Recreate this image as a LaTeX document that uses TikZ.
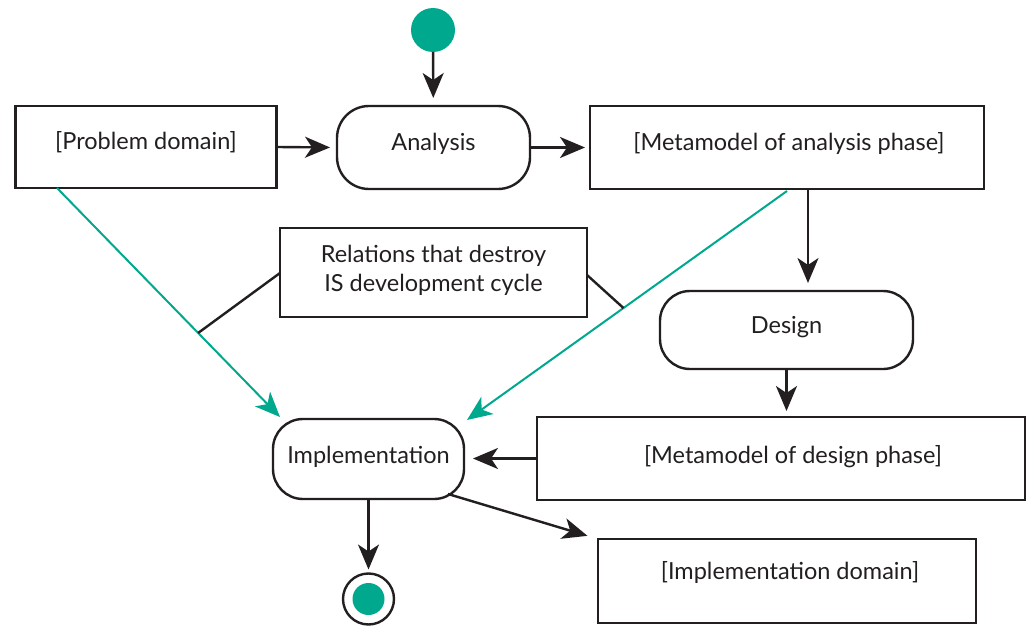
\documentclass[tikz,border=0pt]{standalone}
\usepackage{fontspec}
\setmainfont{Lato}
\usetikzlibrary{arrows.meta,calc}
\definecolor{ink}{HTML}{231F20}
\definecolor{teal}{RGB}{0,168,142}
\begin{document}
\begin{tikzpicture}[x=1pt,y=-1pt,
  every node/.style={inner sep=0pt,outer sep=0pt,font=\fontsize{23.5}{29}\selectfont,text=ink},
  box/.style={draw=ink,line width=2.4pt,rectangle},
  act/.style={draw=ink,line width=2.4pt,rectangle,rounded corners=32pt},
  flow/.style={draw=ink,line width=2.4pt,-{Stealth[length=25pt,width=21pt,inset=7pt]}},
  tflow/.style={draw=teal,line width=2pt,-{Stealth[length=25pt,width=21pt,inset=7pt]}},
  rel/.style={draw=ink,line width=2.4pt}]
\useasboundingbox (0,0) rectangle (1029,626);
\fill[white] (0,0) rectangle (1029,626);

\node[circle,fill=teal,minimum size=44pt] (start) at (433,30) {};
\node[act,minimum width=193pt,minimum height=83pt,label={[yshift=4pt]center:Analysis}] (analysis) at (433.5,147.5) {};
\node[box,minimum width=261pt,minimum height=82pt,label={[yshift=5pt]center:[Problem domain]}] (problem) at (146,147) {};
\node[box,minimum width=394pt,minimum height=83pt,label={[xshift=2pt,yshift=4pt]center:[Metamodel of analysis phase]}] (meta1) at (787,147.5) {};
\node[box,minimum width=307pt,minimum height=89pt,label={[yshift=2pt,align=center]center:Relations that destroy\\IS development cycle}] (rel) at (433.5,272.5) {};
\node[act,rounded corners=30pt,minimum width=253pt,minimum height=78pt,label={[yshift=3pt]center:Design}] (design) at (786.5,330) {};
\node[box,minimum width=488pt,minimum height=83pt,label={[xshift=12pt,yshift=2pt]center:[Metamodel of design phase]}] (meta2) at (781,458.5) {};
\node[act,rounded corners=30pt,minimum width=191pt,minimum height=80pt,label={[yshift=2pt]center:Implementation}] (impl) at (368.5,459) {};
\node[box,minimum width=378pt,minimum height=84pt,label={[xshift=3pt,yshift=8pt]center:[Implementation domain]}] (impldom) at (787,581) {};
\node[circle,draw=ink,line width=2.4pt,minimum size=51pt] (end) at (368.5,599) {};
\node[circle,fill=teal,minimum size=32pt] (endin) at (end.center) {};

\draw[flow,shorten >=8pt] (start) -- (analysis);
\draw[flow,shorten >=7pt] (problem.east) -- (analysis.west);
\draw[flow,shorten >=5pt] (analysis.east) -- (meta1.west);
\draw[flow,shorten >=8pt] ([xshift=21pt]meta1.south) -- ([xshift=21.5pt]design.north);
\draw[flow,shorten >=6pt] (design.south) -- (design.south |- meta2.north);
\draw[flow,shorten >=9pt] (meta2.west) -- (meta2.west -| impl.east);
\draw[flow,shorten >=4pt] (impl.south) -- (end.north);
\draw[flow,shorten >=11pt] ([xshift=-16pt,yshift=5pt]impl.south east) -- (impldom.north west);

\coordinate (g1s) at ([xshift=-89pt]problem.south);
\coordinate (g1e) at ([xshift=7pt,yshift=2pt]impl.north west);
\coordinate (g2s) at ([yshift=-2pt]meta1.south);
\coordinate (g2e) at ([xshift=3pt,yshift=-1pt]impl.north east);
\draw[tflow] (g1s) -- (g1e);
\draw[tflow] (g2s) -- (g2e);

\draw[rel] ([yshift=-0.5pt]rel.west) -- ($(g1s)!0.633!(g1e)$);
\draw[rel] ([yshift=-2.5pt]rel.east) -- ($(g2s)!0.511!(g2e)$);
\end{tikzpicture}
\end{document}
